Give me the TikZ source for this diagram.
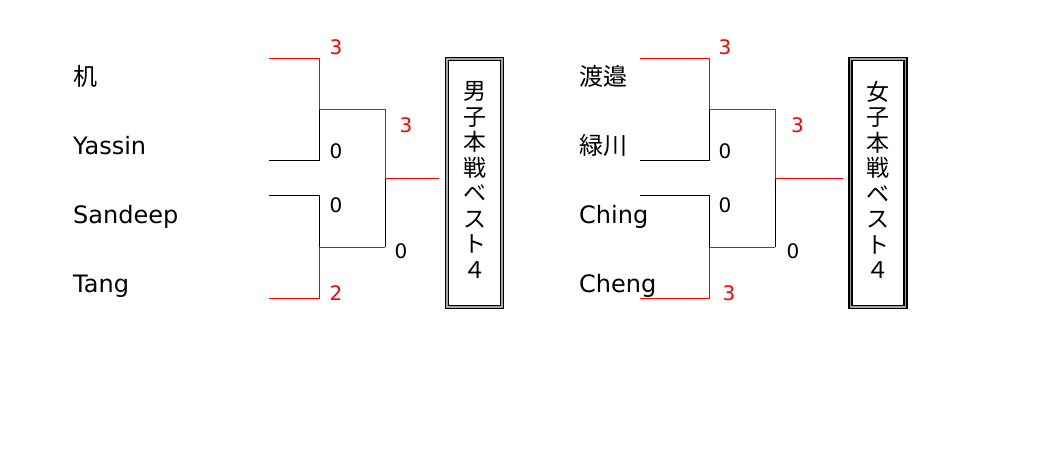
\documentclass[tikz,border=0pt]{standalone}
\usepackage{fontspec}
\setmainfont{DejaVu Sans}
\newfontfamily\jp{Noto Sans CJK JP}
\definecolor{winred}{RGB}{255,0,0}
\begin{document}
\begin{tikzpicture}[x=1pt,y=-1pt,
  win/.style={draw=winred,line width=0.9pt},
  lose/.style={draw=black,line width=0.9pt},
  player/.style={anchor=base west,inner sep=0pt,font=\fontsize{24}{28}\selectfont},
  jplayer/.style={anchor=base west,inner sep=0pt,font=\jp\fontsize{24}{28}\selectfont},
  score/.style={anchor=base,inner sep=0pt,font=\fontsize{20}{24}\selectfont},
  wscore/.style={score,text=winred},
  titlebox/.style={draw=black,line width=1.5pt,double=gray!70,double distance=1.1pt,minimum width=55pt,minimum height=248pt,inner sep=0pt},
  titletext/.style={align=center,inner sep=0pt,font=\jp\fontsize{23}{25.5}\selectfont}
]
\useasboundingbox (0,0) rectangle (1046,452);

% ---------- left bracket ----------
\node[jplayer] (L1) at (73,85) {机};
\node[player]  (L2) at (73,154) {Yassin};
\node[player]  (L3) at (73,223) {Sandeep};
\node[player]  (L4) at (73,292) {Tang};

\coordinate (La1) at (269,58);  \coordinate (Lb1) at (319,58);
\coordinate (La2) at (269,160); \coordinate (Lb2) at (319,160);
\coordinate (La3) at (269,195); \coordinate (Lb3) at (319,195);
\coordinate (La4) at (269,298); \coordinate (Lb4) at (319,298);
\coordinate (Lm1) at (319,109); \coordinate (Lc1) at (385,109);
\coordinate (Lm2) at (319,247); \coordinate (Lc2) at (385,247);
\coordinate (Lf) at (385,178);
\coordinate (Lg) at (439,178);

\node[titlebox] (LB) at (474.5,183) {};
\node[titletext] (LT) at (474.5,180) {男\\子\\本\\戦\\ベ\\ス\\ト\\４};

\draw[lose] (La2) -- (Lb2) -- (Lm1);
\draw[lose] (La3) -- (Lb3) -- (Lm2);
\draw[lose] (Lc2) -- (Lf);
\draw[win] (La1) -- (Lb1) -- (Lm1) -- (Lc1) -- (Lf) -- (Lg);
\draw[win] (La4) -- (Lb4) -- (Lm2) -- (Lc2);

\node[wscore] (Ls1) at (336,55) {3};
\node[score]  (Ls2) at (336,158) {0};
\node[score]  (Ls3) at (336,212) {0};
\node[wscore] (Ls4) at (336,300) {2};
\node[wscore] (Ls5) at (406,132) {3};
\node[score]  (Ls6) at (401,258) {0};

% ---------- right bracket ----------
\node[jplayer] (R1) at (579,85) {渡邉};
\node[jplayer] (R2) at (579,154) {緑川};
\node[player]  (R3) at (579,223) {Ching};
\node[player]  (R4) at (579,292) {Cheng};

\coordinate (Ra1) at (640,58);  \coordinate (Rb1) at (709,58);
\coordinate (Ra2) at (640,160); \coordinate (Rb2) at (709,160);
\coordinate (Ra3) at (640,195); \coordinate (Rb3) at (709,195);
\coordinate (Ra4) at (640,298); \coordinate (Rb4) at (709,298);
\coordinate (Rm1) at (709,109); \coordinate (Rc1) at (775,109);
\coordinate (Rm2) at (709,247); \coordinate (Rc2) at (775,247);
\coordinate (Rf) at (775,178);
\coordinate (Rg) at (843,178);

\node[titlebox] (RB) at (878,183) {};
\node[titletext] (RT) at (878,180) {女\\子\\本\\戦\\ベ\\ス\\ト\\４};

\draw[lose] (Ra2) -- (Rb2) -- (Rm1);
\draw[lose] (Ra3) -- (Rb3) -- (Rm2);
\draw[lose] (Rc2) -- (Rf);
\draw[win] (Ra1) -- (Rb1) -- (Rm1) -- (Rc1) -- (Rf) -- (Rg);
\draw[win] (Ra4) -- (Rb4) -- (Rm2) -- (Rc2);

\node[wscore] (Rs1) at (725,55) {3};
\node[score]  (Rs2) at (725,158) {0};
\node[score]  (Rs3) at (725,212) {0};
\node[wscore] (Rs4) at (729,300) {3};
\node[wscore] (Rs5) at (797.5,132) {3};
\node[score]  (Rs6) at (793,258) {0};
\end{tikzpicture}
\end{document}
